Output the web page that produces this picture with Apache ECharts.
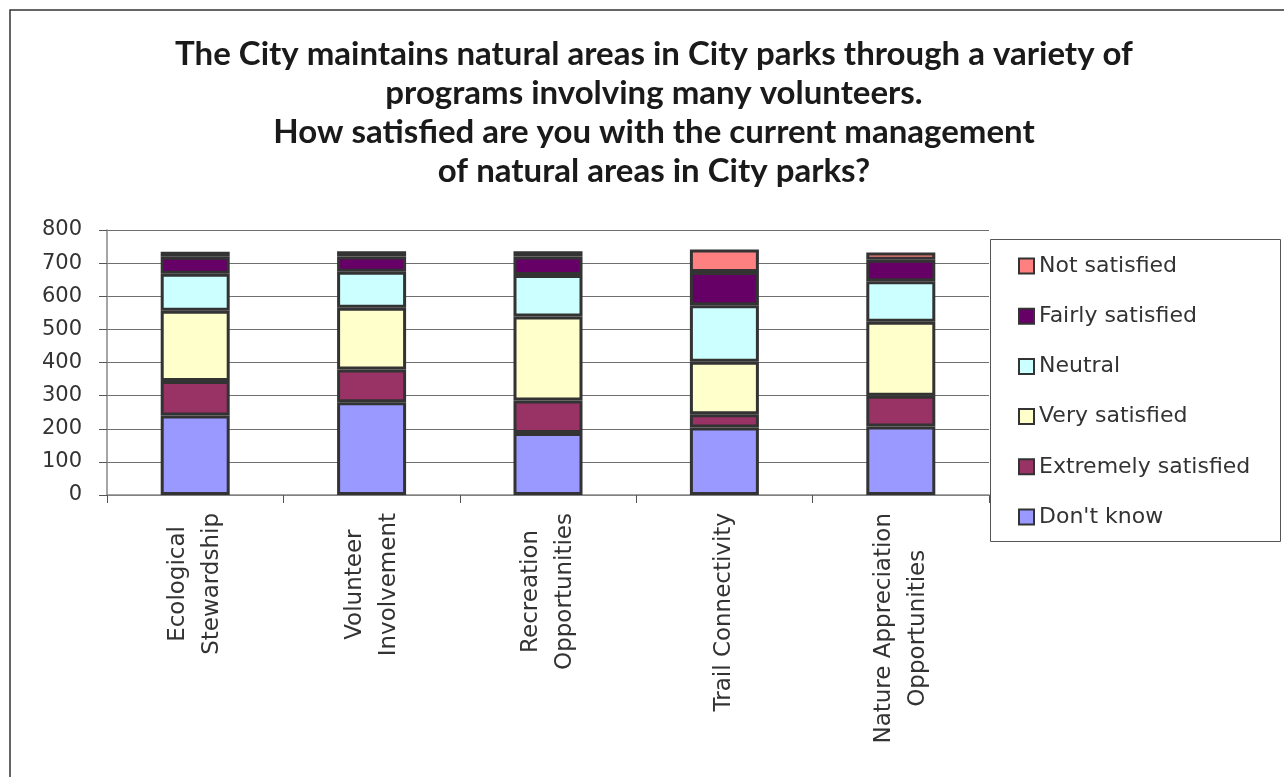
<!DOCTYPE html>
<html>
<head>
<meta charset="utf-8">
<script src="https://cdn.jsdelivr.net/npm/echarts@6/dist/echarts.min.js"></script>
<style>
html,body{margin:0;padding:0;background:#fff;}
#chart{width:1284px;height:777px;}
</style>
</head>
<body>
<div id="chart"></div>
<script>
const titleText = 'The City maintains natural areas in City parks through a variety of\nprograms involving many volunteers.\nHow satisfied are you with the current management\nof natural areas in City parks?';
const categories = ['Ecological\nStewardship', 'Volunteer\nInvolvement', 'Recreation\nOpportunities', 'Trail Connectivity', 'Nature Appreciation\nOpportunities'];
const seriesNames = ["Don't know", 'Extremely satisfied', 'Very satisfied', 'Neutral', 'Fairly satisfied', 'Not satisfied'];
const dontKnow  = [240, 280, 187, 204, 207];
const extremely = [104, 99, 98, 40, 93];
const very      = [212, 186, 254, 158, 223];
const neutral   = [112, 109, 125, 171, 122];
const fairly    = [51, 46, 56, 100, 65];
const notSat    = [15, 16, 16, 68, 22];
const yTicks = [0, 100, 200, 300, 400, 500, 600, 700, 800];

const colors = ['#9999FF', '#993366', '#FFFFCC', '#CCFFFF', '#660066', '#FF8080'];
const values = [dontKnow, extremely, very, neutral, fairly, notSat];

const chart = echarts.init(document.getElementById('chart'), null, {renderer: 'canvas'});
const textFont = "'DejaVu Sans', sans-serif";

const option = {
  backgroundColor: '#ffffff',
  animation: false,
  title: {
    text: titleText,
    left: 649,
    top: 30,
    textAlign: 'center',
    textStyle: {
      fontFamily: "Lato, sans-serif",
      fontWeight: 'bold',
      fontSize: 33,
      lineHeight: 39,
      color: '#1a1a1a'
    }
  },
  graphic: [
    {type: 'rect', shape: {x: 10, y: 10, width: 1400, height: 900}, style: {fill: 'none', stroke: '#333', lineWidth: 1.5}, silent: true},
    {type: 'rect', shape: {x: 990.5, y: 239.5, width: 290, height: 302}, style: {fill: 'none', stroke: '#555', lineWidth: 1}, silent: true}
  ],
  legend: {
    orient: 'vertical',
    left: 1013,
    top: 250,
    itemWidth: 15,
    itemHeight: 15,
    itemGap: 28.2,
    icon: 'rect',
    data: seriesNames.slice().reverse(),
    itemStyle: {borderColor: '#333', borderWidth: 2},
    textStyle: {fontFamily: textFont, fontSize: 22, lineHeight: 22, color: '#333'}
  },
  grid: {
    left: 107,
    right: 295,
    top: 230,
    bottom: 282,
    containLabel: false,
    outerBoundsMode: 'none'
  },
  xAxis: {
    type: 'category',
    data: categories,
    axisLine: {lineStyle: {color: '#888', width: 1.5}},
    axisTick: {show: true, length: 8, lineStyle: {color: '#555'}},
    axisLabel: {
      interval: 0,
      rotate: 90,
      margin: 18,
      color: '#333',
      fontFamily: textFont,
      fontSize: 23,
      formatter: function (v) {
        return v.split('\n').map(function (s) { return '{c|' + s + '}'; }).join('\n');
      },
      rich: {c: {align: 'center', fontFamily: textFont, fontSize: 23, lineHeight: 34, color: '#333'}}
    }
  },
  yAxis: {
    type: 'value',
    min: 0,
    max: 800,
    interval: 100,
    axisLine: {show: true, lineStyle: {color: '#888', width: 1.5}},
    axisTick: {show: true, length: 8, lineStyle: {color: '#555'}},
    axisLabel: {
      margin: 25,
      color: '#333',
      fontFamily: textFont,
      fontSize: 21,
      formatter: function (v) { return yTicks.indexOf(v) >= 0 ? String(v) : ''; }
    },
    splitLine: {show: true, lineStyle: {color: '#6f6f6f', width: 1.2}}
  },
  series: seriesNames.map(function (name, i) {
    return {
      name: name,
      type: 'bar',
      stack: 'total',
      barWidth: 69,
      data: values[i],
      itemStyle: {color: colors[i], borderColor: '#333', borderWidth: 3}
    };
  })
};
chart.setOption(option);
</script>
</body>
</html>
